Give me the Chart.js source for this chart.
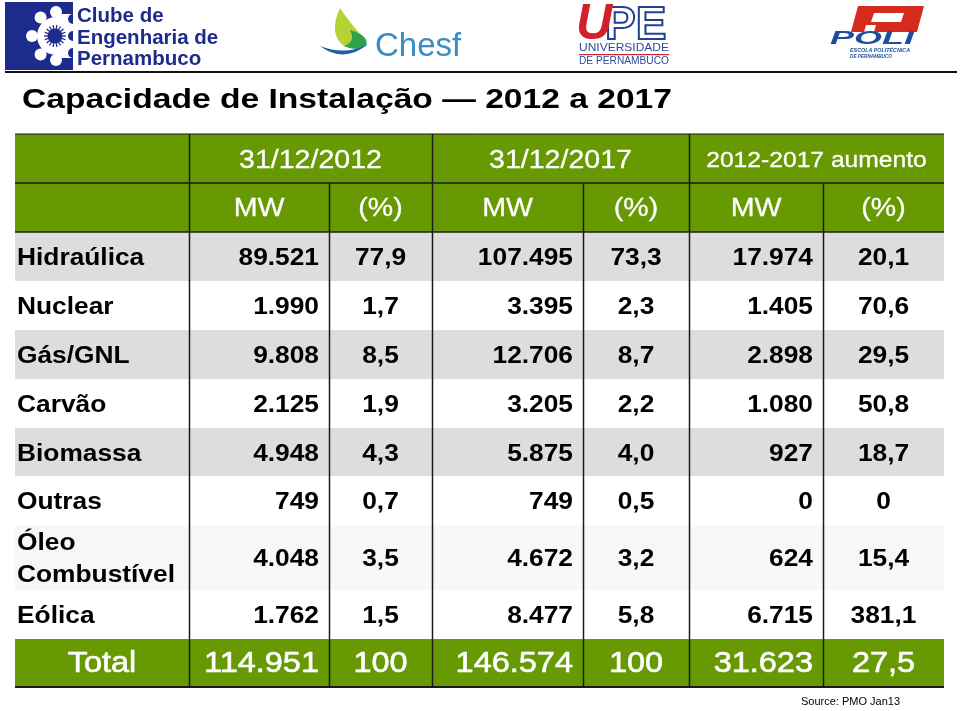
<!DOCTYPE html>
<html>
<head>
<meta charset="utf-8">
<script src="https://cdn.jsdelivr.net/npm/chart.js@4/dist/chart.umd.min.js"></script>
<style>
  html, body { margin: 0; padding: 0; background: #fff; }
</style>
</head>
<body>
<canvas id="tabela" width="960" height="711"></canvas>
<script>
// Capacidade de Instalação 2012 a 2017 — fonte: PMO Jan13
const titulo = 'Capacidade de Instalação — 2012 a 2017';
const fonte = 'Source: PMO Jan13';
const periodos = ['31/12/2012', '31/12/2017', '2012-2017 aumento'];
const subcolunas = ['MW', '(%)', 'MW', '(%)', 'MW', '(%)'];
const categorias = ['Hidraúlica', 'Nuclear', 'Gás/GNL', 'Carvão', 'Biomassa', 'Outras', 'Óleo\nCombustível', 'Eólica'];
const mw2012 = [89521, 1990, 9808, 2125, 4948, 749, 4048, 1762];
const pct2012 = [77.9, 1.7, 8.5, 1.9, 4.3, 0.7, 3.5, 1.5];
const mw2017 = [107495, 3395, 12706, 3205, 5875, 749, 4672, 8477];
const pct2017 = [73.3, 2.3, 8.7, 2.2, 4.0, 0.5, 3.2, 5.8];
const mwAumento = [17974, 1405, 2898, 1080, 927, 0, 624, 6715];
const pctAumento = [20.1, 70.6, 29.5, 50.8, 18.7, 0, 15.4, 381.1];
const rotuloTotal = 'Total';
const totalMw = [114951, 146574, 31623];
const totalPct = [100, 100, 27.5];

// layout (px)
const larguras = [174, 140, 103, 151, 106, 134, 121];
const alturas = [49, 49, 49, 49, 49, 49, 48, 49, 65, 49, 48];
const fundos = ['#dcdddf', '#ffffff', '#dcdddf', '#ffffff', '#dcdddf', '#ffffff', '#f7f7f5', '#ffffff'];
const VERDE = '#679a02';
const SX = 1.12;                       // texto esticado na horizontal, como no slide
const FAM = '"Liberation Sans", Arial, Helvetica, sans-serif';

const bordasX = [0]; larguras.forEach(w => bordasX.push(bordasX[bordasX.length - 1] + w));
const bordasY = [0]; alturas.forEach(h => bordasY.push(bordasY[bordasY.length - 1] + h));

const fmtMw = v => String(v).replace(/\B(?=(\d{3})+(?!\d))/g, '.');
const fmtPct = v => (v === 0 || v === 100) ? String(v) : v.toFixed(1).replace('.', ',');

function texto(ctx, str, x, y, align, font, cor, sx, traco) {
  ctx.save();
  ctx.font = font; ctx.fillStyle = cor;
  ctx.textBaseline = 'middle'; ctx.textAlign = align;
  ctx.translate(x, y); ctx.scale(sx, 1);
  ctx.fillText(str, 0, 0);
  if (traco) { ctx.strokeStyle = cor; ctx.lineWidth = traco; ctx.lineJoin = 'round'; ctx.strokeText(str, 0, 0); }
  ctx.restore();
}
// ajusta o texto a uma largura
function textoLargura(ctx, str, x, y, larg, font, cor) {
  ctx.save();
  ctx.font = font;
  const sx = larg / ctx.measureText(str).width;
  texto(ctx, str, x, y, 'left', font, cor, sx);
  ctx.restore();
}

const tabelaPlugin = {
  id: 'tabela',
  beforeDraw(chart) {
    const { ctx, scales: { x, y } } = chart;
    const px = v => x.getPixelForValue(v), py = v => y.getPixelForValue(v);
    const L = px(0), R = px(bordasX[bordasX.length - 1]);
    const nLin = alturas.length;

    // fundos
    ctx.save();
    ctx.fillStyle = VERDE;
    ctx.fillRect(L, py(0), R - L, py(bordasY[2]) - py(0));
    categorias.forEach((c, i) => {
      ctx.fillStyle = fundos[i];
      ctx.fillRect(L, py(bordasY[i + 2]), R - L, py(bordasY[i + 3]) - py(bordasY[i + 2]));
    });
    ctx.fillStyle = VERDE;
    ctx.fillRect(L, py(bordasY[nLin - 1]), R - L, py(bordasY[nLin]) - py(bordasY[nLin - 1]));

    // linhas
    ctx.strokeStyle = '#1b1b1b';
    const hLinha = (v, w) => { ctx.lineWidth = w; ctx.beginPath(); ctx.moveTo(L, py(v)); ctx.lineTo(R, py(v)); ctx.stroke(); };
    const vLinha = (v, a, b) => { ctx.lineWidth = 1.5; ctx.beginPath(); ctx.moveTo(Math.round(px(v)) + 0.5, py(a)); ctx.lineTo(Math.round(px(v)) + 0.5, py(b)); ctx.stroke(); };
    hLinha(bordasY[0], 1);
    hLinha(bordasY[1], 1.5);
    hLinha(bordasY[2], 1.5);
    hLinha(bordasY[nLin], 2);
    [1, 3, 5].forEach(i => vLinha(bordasX[i], bordasY[0], bordasY[nLin]));
    [2, 4, 6].forEach(i => vLinha(bordasX[i], bordasY[1], bordasY[nLin]));

    // cabeçalho
    const meio = (a, b) => (px(bordasX[a]) + px(bordasX[b])) / 2;
    const cy = i => (py(bordasY[i]) + py(bordasY[i + 1])) / 2;
    periodos.forEach((p, i) => {
      const f = i === 2 ? `22px ${FAM}` : `25.5px ${FAM}`;
      texto(ctx, p, meio(1 + 2 * i, 3 + 2 * i), cy(0) + 2, 'center', f, '#fff', SX, 0.3);
    });
    subcolunas.forEach((s, i) => texto(ctx, s, meio(1 + i, 2 + i), cy(1) + 1, 'center', `25.5px ${FAM}`, '#fff', SX, 0.3));

    // linhas de dados
    const fB = `bold 23.5px ${FAM}`;
    const colunas = [[mw2012, fmtMw], [pct2012, fmtPct], [mw2017, fmtMw], [pct2017, fmtPct], [mwAumento, fmtMw], [pctAumento, fmtPct]];
    categorias.forEach((c, i) => {
      const yc = cy(i + 2) + 2.5;
      const partes = c.split('\n');
      if (partes.length > 1) {
        texto(ctx, partes[0], px(2), yc - 16, 'left', fB, '#000', SX);
        texto(ctx, partes[1], px(2), yc + 16, 'left', fB, '#000', SX);
      } else {
        texto(ctx, c, px(2), yc, 'left', fB, '#000', SX);
      }
      colunas.forEach(([arr, fmt], j) => {
        if (j % 2 === 0) texto(ctx, fmt(arr[i]), px(bordasX[j + 2]) - 10, yc, 'right', fB, '#000', SX);
        else texto(ctx, fmt(arr[i]), meio(j + 1, j + 2), yc, 'center', fB, '#000', SX);
      });
    });

    // total
    const fT = `29px ${FAM}`, yt = cy(nLin - 1) + 1;
    texto(ctx, rotuloTotal, meio(0, 1), yt, 'center', fT, '#fff', SX, 0.6);
    totalMw.forEach((v, i) => {
      texto(ctx, fmtMw(v), px(bordasX[2 + 2 * i]) - 10, yt, 'right', fT, '#fff', SX, 0.6);
      texto(ctx, fmtPct(totalPct[i]), meio(2 + 2 * i, 3 + 2 * i), yt, 'center', fT, '#fff', SX, 0.6);
    });
    ctx.restore();
  }
};

// logotipos, título e fonte
const cabecalhoPlugin = {
  id: 'cabecalho',
  afterDraw(chart) {
    const ctx = chart.ctx;
    ctx.save();

    // Clube de Engenharia de Pernambuco
    const azul = '#1c2b8c';
    ctx.fillStyle = azul; ctx.fillRect(5, 2, 68, 68);
    ctx.save();
    ctx.beginPath(); ctx.rect(5, 2, 68, 68); ctx.clip();
    ctx.fillStyle = '#fff';
    ctx.beginPath(); ctx.arc(56, 36, 19, 0, Math.PI * 2); ctx.fill();
    ctx.fillRect(56, 14, 17, 44);
    [90, 130, 180, 230, 270].forEach(a => {
      const r = a * Math.PI / 180;
      ctx.beginPath(); ctx.arc(56 + 24 * Math.cos(r), 36 + 24 * Math.sin(r), 6, 0, Math.PI * 2); ctx.fill();
    });
    ctx.fillStyle = azul;
    [-1, 0, 1].forEach(k => {
      ctx.beginPath(); ctx.arc(73, 36 + k * 17, 5, 0, Math.PI * 2); ctx.fill();
    });
    ctx.beginPath(); ctx.arc(55, 36, 7.5, 0, Math.PI * 2); ctx.fill();
    ctx.strokeStyle = azul; ctx.lineWidth = 1.3;
    for (let k = 0; k < 18; k++) {
      const r = k * Math.PI / 9;
      ctx.beginPath(); ctx.moveTo(55 + 7 * Math.cos(r), 36 + 7 * Math.sin(r));
      ctx.lineTo(55 + 11 * Math.cos(r), 36 + 11 * Math.sin(r)); ctx.stroke();
    }
    ctx.restore();
    ['Clube de', 'Engenharia de', 'Pernambuco'].forEach((t, i) => {
      ctx.font = `bold 20.5px ${FAM}`; ctx.fillStyle = azul; ctx.textBaseline = 'alphabetic'; ctx.textAlign = 'left';
      ctx.fillText(t, 77, 22 + i * 21.5);
    });

    // Chesf
    ctx.fillStyle = '#b5d334';
    ctx.beginPath(); ctx.moveTo(340, 8); ctx.quadraticCurveTo(328, 34, 344, 46);
    ctx.quadraticCurveTo(362, 52, 366, 40); ctx.quadraticCurveTo(352, 26, 340, 8); ctx.fill();
    ctx.fillStyle = '#2fa24a';
    ctx.beginPath(); ctx.moveTo(350, 30); ctx.quadraticCurveTo(370, 36, 366, 46);
    ctx.quadraticCurveTo(356, 52, 344, 46); ctx.quadraticCurveTo(356, 42, 350, 30); ctx.fill();
    ctx.fillStyle = '#1f5fa8';
    ctx.beginPath(); ctx.moveTo(320, 46); ctx.quadraticCurveTo(344, 64, 368, 44);
    ctx.quadraticCurveTo(346, 56, 320, 46); ctx.fill();
    ctx.font = `33px ${FAM}`; ctx.fillStyle = '#3b8cc4'; ctx.textBaseline = 'alphabetic';
    ctx.fillText('Chesf', 375, 56);

    // UPE
    ctx.font = `bold 46px ${FAM}`; ctx.lineWidth = 2; ctx.strokeStyle = '#25408f'; ctx.fillStyle = '#fff';
    ctx.fillText('PE', 605, 39); ctx.strokeText('PE', 605, 39);
    ctx.font = `italic bold 50px ${FAM}`; ctx.fillStyle = '#d3212a';
    ctx.fillText('U', 576, 39);
    textoLargura(ctx, 'UNIVERSIDADE', 579, 48, 90, `11px ${FAM}`, '#2b4a9b');
    ctx.fillStyle = '#d3212a'; ctx.fillRect(579, 54, 90, 1.2);
    textoLargura(ctx, 'DE PERNAMBUCO', 579, 61, 90, `11px ${FAM}`, '#2b4a9b');

    // POLI
    ctx.fillStyle = '#d52b1e';
    ctx.beginPath(); ctx.moveTo(858, 6); ctx.lineTo(924, 6); ctx.lineTo(917, 32); ctx.lineTo(851, 32); ctx.closePath(); ctx.fill();
    ctx.fillStyle = '#fff';
    ctx.beginPath(); ctx.moveTo(874, 13); ctx.lineTo(904, 13); ctx.lineTo(901, 22); ctx.lineTo(871, 22); ctx.closePath(); ctx.fill();
    ctx.beginPath(); ctx.moveTo(866, 25); ctx.lineTo(876, 25); ctx.lineTo(874, 32); ctx.lineTo(864, 32); ctx.closePath(); ctx.fill();
    textoLargura(ctx, 'POLI', 830, 39, 84, `italic bold 19px ${FAM}`, '#1f4e9e');
    textoLargura(ctx, 'ESCOLA POLITÉCNICA', 850, 50, 60, `italic bold 6px ${FAM}`, '#1f4e9e');
    textoLargura(ctx, 'DE PERNAMBUCO', 850, 56, 42, `italic bold 6px ${FAM}`, '#1f4e9e');

    // régua
    ctx.fillStyle = '#111'; ctx.fillRect(5, 71, 952, 2);

    // título e fonte
    textoLargura(ctx, titulo, 22, 100, 650, `bold 28px ${FAM}`, '#000');
    textoLargura(ctx, fonte, 801, 702, 99, `11px ${FAM}`, '#000');
    ctx.restore();
  }
};

new Chart(document.getElementById('tabela'), {
  type: 'scatter',
  data: { datasets: [{ data: [], pointRadius: 0 }] },
  options: {
    responsive: false,
    animation: false,
    devicePixelRatio: 1,
    layout: { padding: { left: 15, top: 134, right: 16, bottom: 24 } },
    scales: {
      x: { type: 'linear', display: false, min: 0, max: bordasX[bordasX.length - 1] },
      y: { type: 'linear', display: false, min: 0, max: bordasY[bordasY.length - 1], reverse: true }
    },
    plugins: { legend: { display: false }, tooltip: { enabled: false } }
  },
  plugins: [tabelaPlugin, cabecalhoPlugin]
});
</script>
</body>
</html>
